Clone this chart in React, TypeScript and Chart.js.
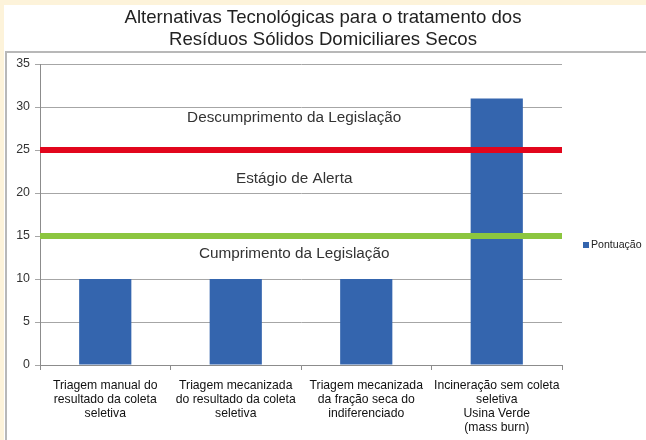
import React, { useEffect, useRef } from "react";
import { Chart, registerables } from "chart.js";

Chart.register(...registerables);

const titleLines = [
  "Alternativas Tecnológicas para o tratamento dos",
  "Resíduos Sólidos Domiciliares Secos",
];
const categories = [
  ["Triagem manual do", "resultado da coleta", "seletiva"],
  ["Triagem mecanizada", "do resultado da coleta", "seletiva"],
  ["Triagem mecanizada", "da fração seca do", "indiferenciado"],
  ["Incineração sem coleta", "seletiva", "Usina Verde", "(mass burn)"],
];
const seriesName = "Pontuação";
const scores = [10, 10, 10, 31];
const thresholdNames = ["Limite de descumprimento", "Limite de alerta"];
const thresholdValues = [25, 15];
const zoneLabels = ["Descumprimento da Legislação", "Estágio de Alerta", "Cumprimento da Legislação"];
const zoneLabelValues = [28.8, 21.7, 12.95];
const yMin = 0;
const yMax = 35;
const yStep = 5;

const FONT = "'Liberation Sans', Arial, sans-serif";
const BAR_COLOR = "#3465ae";
const THRESH_COLORS = ["#e2061c", "#8cc63f"];

export default function App() {
  const ref = useRef<HTMLCanvasElement | null>(null);

  useEffect(() => {
    const canvas = ref.current;
    if (!canvas) return;

    const framePlugin = {
      id: "frame",
      beforeDraw(chart: any) {
        const { ctx, width, height } = chart;
        ctx.save();
        ctx.fillStyle = "#fdf3da";
        ctx.fillRect(0, 0, width, height);
        ctx.fillStyle = "#ffffff";
        ctx.fillRect(4, 5, width - 4, height - 5);
        ctx.strokeStyle = "#b8b8b8";
        ctx.lineWidth = 2;
        ctx.strokeRect(6, 52, width + 20, height + 20);
        ctx.restore();
      },
    };

    const annotPlugin = {
      id: "annot",
      afterDraw(chart: any) {
        const { ctx } = chart;
        const y = chart.scales.y;
        const x2 = chart.scales.x2;
        ctx.save();
        ctx.fillStyle = "#333333";
        ctx.font = `15.3px ${FONT}`;
        ctx.textAlign = "center";
        ctx.textBaseline = "middle";
        const cx = x2.getPixelForValue(0.487);
        zoneLabels.forEach((t, i) => {
          ctx.fillText(t, cx, y.getPixelForValue(zoneLabelValues[i]));
        });
        // legend
        ctx.fillStyle = BAR_COLOR;
        ctx.fillRect(583, 242, 6, 6);
        ctx.fillStyle = "#222222";
        ctx.font = `10.6px ${FONT}`;
        ctx.textAlign = "left";
        ctx.fillText(seriesName, 591, 245.5);
        ctx.restore();
      },
    };

    const chart = new Chart(canvas, {
      type: "bar",
      data: {
        labels: categories as any,
        datasets: [
          ...thresholdValues.map((v, i) => ({
            type: "line" as const,
            label: thresholdNames[i],
            xAxisID: "x2",
            yAxisID: "y",
            data: [
              { x: 0, y: v },
              { x: 1, y: v },
            ],
            borderColor: THRESH_COLORS[i],
            backgroundColor: THRESH_COLORS[i],
            borderWidth: 6,
            pointRadius: 0,
            borderCapStyle: "butt" as const,
            order: 0,
          })),
          {
            type: "bar" as const,
            label: seriesName,
            xAxisID: "x",
            yAxisID: "y",
            data: scores,
            backgroundColor: BAR_COLOR,
            borderWidth: 0,
            barPercentage: 0.4,
            categoryPercentage: 1.0,
            grouped: false,
            order: 1,
          },
        ] as any,
      },
      options: {
        responsive: false,
        animation: false,
        devicePixelRatio: 1,
        layout: { padding: { left: 0, right: 0, top: 0, bottom: 0 } },
        plugins: {
          legend: { display: false },
          tooltip: { enabled: false },
          title: {
            display: true,
            text: titleLines,
            color: "#222222",
            font: { family: FONT, size: 18.6, weight: "normal", lineHeight: "22px" as any },
            padding: { top: 7, bottom: 13 },
          },
        },
        scales: {
          x: {
            type: "category",
            offset: true,
            grid: {
              display: true,
              offset: true,
              drawOnChartArea: false,
              drawTicks: true,
              tickLength: 5,
              color: "#8c8c8c",
            },
            border: { display: true, color: "#8c8c8c", width: 1 },
            ticks: {
              color: "#111111",
              font: { family: FONT, size: 12.2, lineHeight: "13.8px" as any },
              padding: 9,
              maxRotation: 0,
              autoSkip: false,
            },
            afterFit(scale: any) {
              scale.height = 75;
            },
          },
          x2: {
            type: "linear",
            display: false,
            offset: false,
            min: 0,
            max: 1,
          },
          y: {
            position: "left",
            min: yMin,
            max: yMax,
            ticks: {
              stepSize: yStep,
              color: "#333333",
              font: { family: FONT, size: 12.4 },
              padding: 5,
            },
            grid: {
              color: "#a6a6a6",
              lineWidth: 1,
              tickLength: 5,
            },
            border: { display: true, color: "#8c8c8c", width: 1 },
            afterFit(scale: any) {
              scale.width = 40;
            },
          },
          yLegendSpace: {
            type: "linear",
            position: "right",
            display: true,
            min: 0,
            max: 1,
            ticks: { display: false },
            grid: { display: false, drawOnChartArea: false, drawTicks: false },
            border: { display: false },
            afterFit(scale: any) {
              scale.width = 84;
            },
          },
        } as any,
      },
      plugins: [framePlugin, annotPlugin],
    });

    return () => chart.destroy();
  }, []);

  return (
    <div style={{ position: "absolute", left: 0, top: 0, width: 646, height: 440 }}>
      <canvas ref={ref} width={646} height={440} style={{ width: 646, height: 440, display: "block" }} />
    </div>
  );
}
